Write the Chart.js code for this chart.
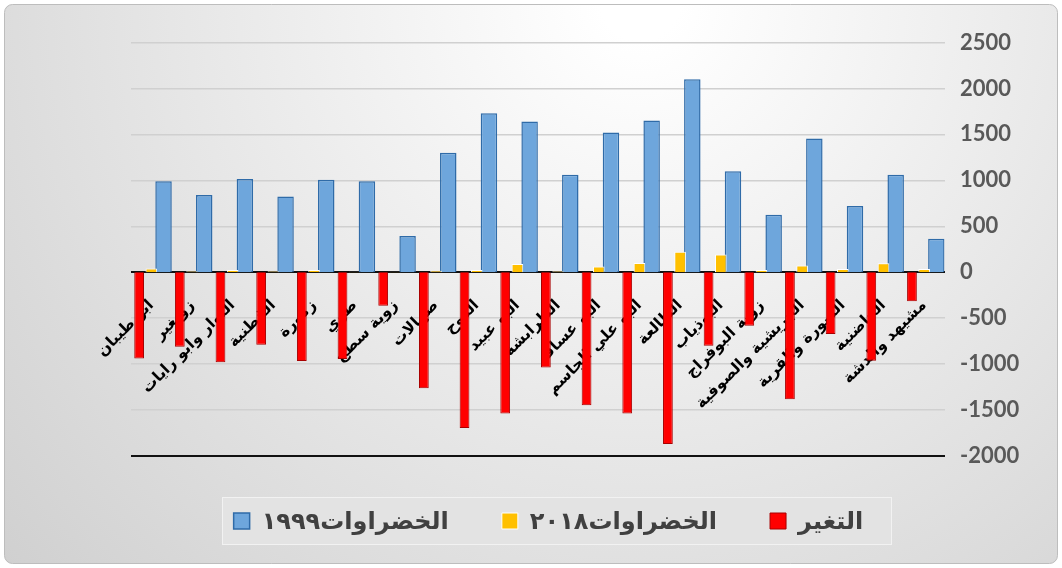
<!DOCTYPE html>
<html>
<head>
<meta charset="utf-8">
<script src="https://cdn.jsdelivr.net/npm/chart.js@4"></script>
<style>
  html, body { margin: 0; padding: 0; background: #fff; }
  #wrap { width: 1062px; height: 568px; }
</style>
</head>
<body>
<div id="wrap"><canvas id="chart" width="1062" height="568"></canvas></div>
<script>
// Villages (categories), left to right as in the picture
const villages = [
    'ابو طيبان', 'زويغير', 'النوار وابو رايات', 'القطنية', 'زكورة', 'طوي',
    'زوية سطح', 'صهالات', 'الدوح', 'البو عبيد', 'الطرابشة', 'البو عساف',
    'البو علي الجاسم', 'الطالعة', 'البوذياب', 'زوية البوفراج',
    'الجريشية والصوفية', 'السورة والقرية', 'الحاضنية', 'مشيهد والدشة'
];

// Series values
const veg1999 = [990, 840, 1015, 825, 1005, 990, 395, 1300, 1730, 1640, 1060, 1520, 1650, 2100, 1100, 625, 1455, 720, 1060, 365];
const veg2018 = [40, 10, 25, 10, 25, 5, 5, 15, 25, 90, 10, 62, 100, 222, 192, 25, 73, 35, 98, 35];
const change = [-940, -810, -980, -790, -965, -945, -365, -1262, -1695, -1538, -1036, -1448, -1538, -1870, -800, -582, -1382, -673, -964, -317];

// Value axis
const yMin = -2000;
const yMax = 2500;
const yStep = 500;

const seriesNames = ['التغير', 'الخضراوات٢٠١٨', 'الخضراوات١٩٩٩'];

/**
 * Background panel, outer frame and the legend panel
 */
const backdrop = {
    id: 'backdrop',
    beforeDraw(chart) {
        const {ctx, width, height} = chart;
        ctx.save();
        ctx.fillStyle = '#ffffff';
        ctx.fillRect(0, 0, width, height);

        const g = ctx.createRadialGradient(640, 0, 40, 640, 0, 900);
        g.addColorStop(0, '#ffffff');
        g.addColorStop(1, '#cdcdcd');
        ctx.beginPath();
        ctx.roundRect(4.5, 4.5, width - 9, height - 9, 8);
        ctx.fillStyle = g;
        ctx.fill();
        ctx.strokeStyle = '#bdbdbd';
        ctx.lineWidth = 1;
        ctx.stroke();

        // legend panel
        ctx.fillStyle = '#e3e3e3';
        ctx.fillRect(222, 497, 670, 48);
        ctx.strokeStyle = '#f2f2f2';
        ctx.strokeRect(222.5, 497.5, 669, 47);
        ctx.restore();
    }
};

const ctx = document.getElementById('chart').getContext('2d');

new Chart(ctx, {
    type: 'bar',
    data: {
        labels: villages,
        datasets: [{
            label: seriesNames[0],
            data: change,
            backgroundColor: '#ff0000',
            borderColor: '#a80000',
            borderWidth: 1,
            barPercentage: 0.8
        }, {
            label: seriesNames[1],
            data: veg2018,
            backgroundColor: '#ffc000',
            borderColor: '#ffffff',
            borderWidth: 1,
            barPercentage: 0.95
        }, {
            label: seriesNames[2],
            data: veg1999,
            backgroundColor: '#6ea6dc',
            borderColor: '#2f6ba8',
            borderWidth: 1.5,
            barPercentage: 1.35
        }]
    },
    options: {
        responsive: false,
        animation: false,
        layout: {
            padding: { left: 72.5, right: 37.5, top: 42.5, bottom: 25 }
        },
        datasets: {
            bar: { categoryPercentage: 0.9 }
        },
        scales: {
            x: {
                position: { y: 0 },
                z: 1,
                grid: { display: false },
                border: { display: false },
                ticks: {
                    autoSkip: false,
                    minRotation: 45,
                    maxRotation: 45,
                    padding: 16,
                    color: '#000000',
                    font: { family: "'DejaVu Sans'", size: 15.5, weight: 'bold' }
                }
            },
            // empty spacer on the left so the legend sits where it does in the picture
            spacer: {
                type: 'linear',
                position: 'left',
                afterFit(scale) {
                    scale.width = 58.5;
                },
                grid: { display: false },
                border: { display: false },
                ticks: { display: false }
            },
            y: {
                position: 'right',
                min: yMin,
                max: yMax,
                afterFit(scale) {
                    scale.width = 80;
                },
                border: { display: false },
                grid: {
                    drawTicks: false,
                    color: c => (c.tick && (c.tick.value === 0 || c.tick.value === yMin)) ? '#111111' : '#d0d0d0',
                    lineWidth: c => (c.tick && (c.tick.value === 0 || c.tick.value === yMin)) ? 2 : 1.5
                },
                ticks: {
                    stepSize: yStep,
                    padding: 15.5,
                    color: '#595959',
                    font: { family: 'Lato', size: 22, weight: 'bold' },
                    callback: value => String(value)
                }
            }
        },
        plugins: {
            legend: {
                position: 'bottom',
                reverse: true,
                labels: {
                    boxWidth: 16,
                    boxHeight: 16,
                    padding: 53,
                    color: '#404040',
                    font: { family: "Lato, 'DejaVu Sans'", size: 24, weight: 'bold' }
                }
            },
            tooltip: { enabled: false }
        }
    },
    plugins: [backdrop]
});
</script>
</body>
</html>
